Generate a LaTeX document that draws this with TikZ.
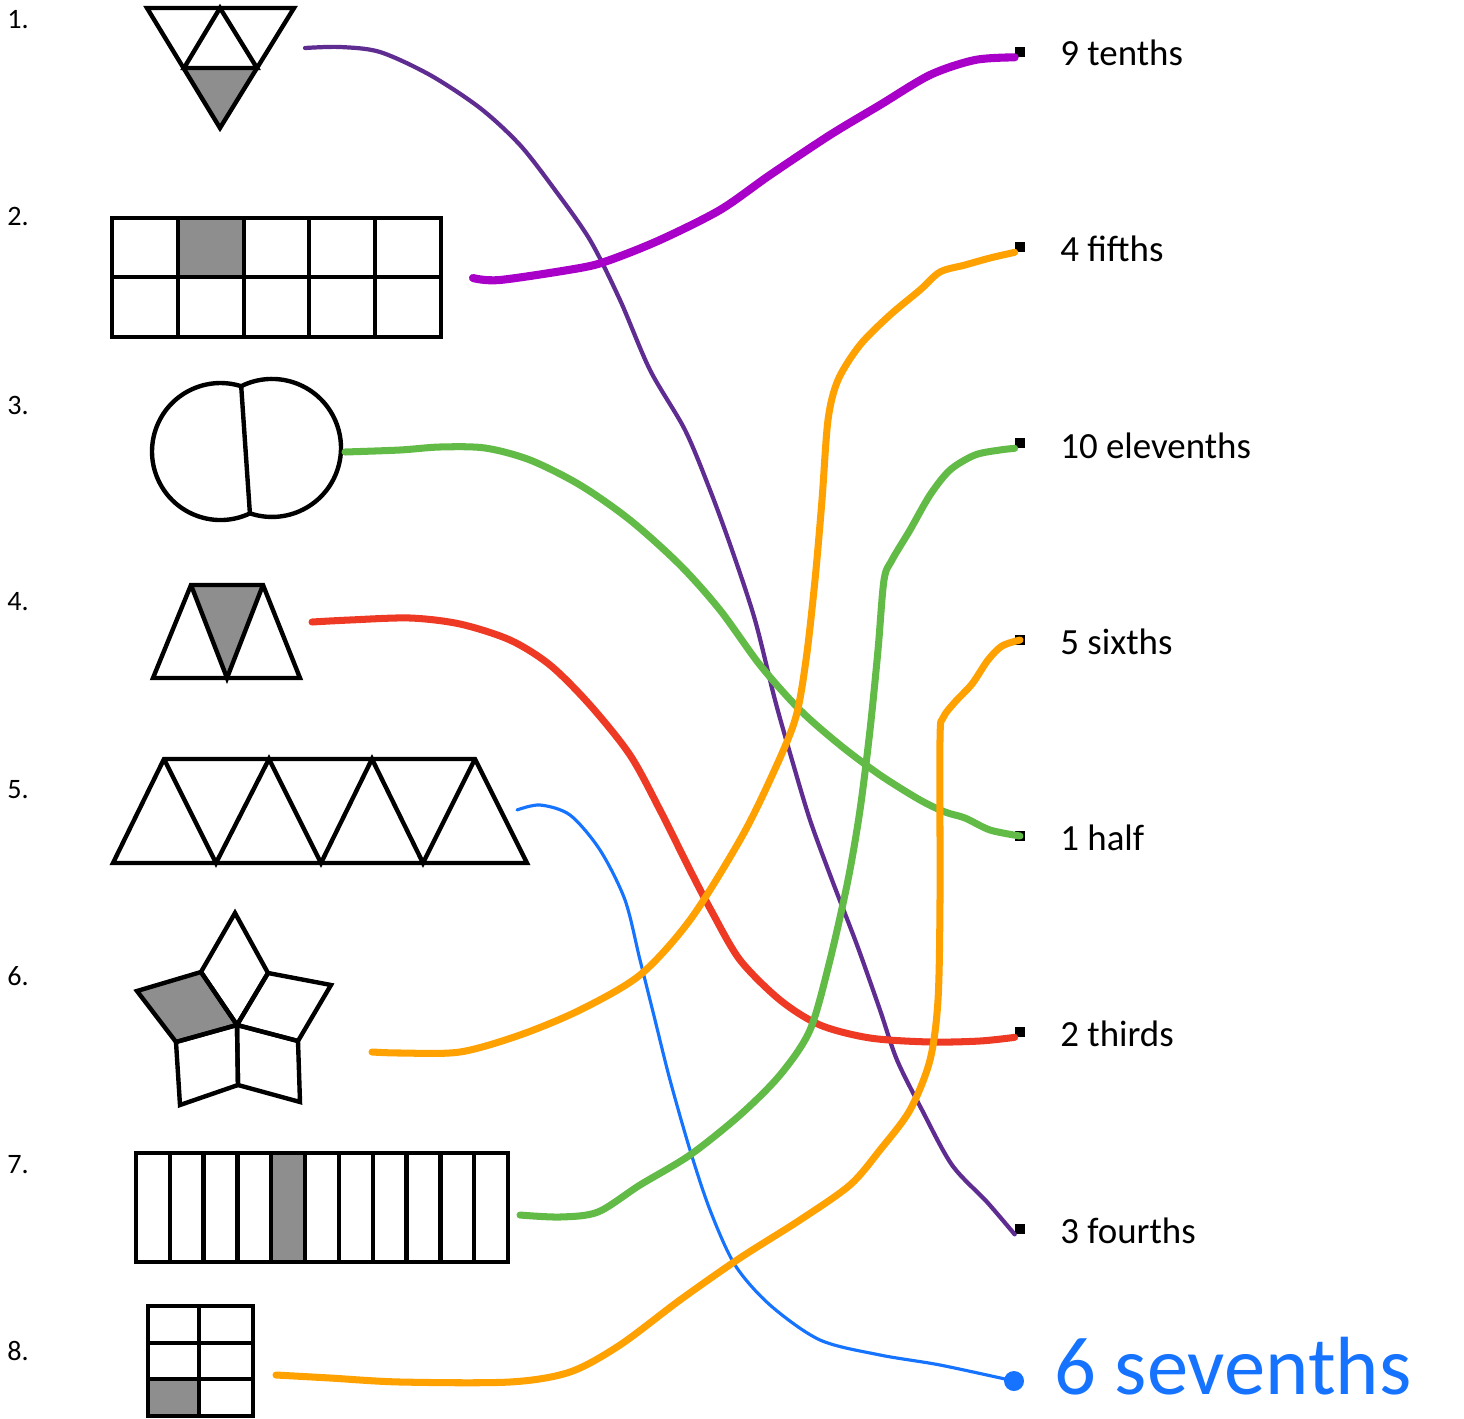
\documentclass[tikz,border=0pt]{standalone}
\usepackage{fontspec}
\setmainfont{Carlito}
\usepackage{xcolor}
\usetikzlibrary{positioning}

\definecolor{plumink}{HTML}{5F2D91}
\definecolor{magentaink}{HTML}{A800C8}
\definecolor{orangeink}{HTML}{FFA100}
\definecolor{greenink}{HTML}{62BB46}
\definecolor{redink}{HTML}{EE3A24}
\definecolor{blueink}{HTML}{1573FF}
\definecolor{dotgray}{HTML}{8E8E8E}

\begin{document}
\begin{tikzpicture}[x=0.02cm, y=-0.02cm,
  outline/.style={line width=2.5pt, line join=miter},
  shaded/.style={fill=dotgray},
  ink/.style={line cap=round, line join=round},
  thinink/.style={ink, line width=1.8pt},
  thickink/.style={ink, line width=4pt},
  endsq/.style={fill=black, minimum size=0.2cm, inner sep=0pt},
  fraclab/.style={anchor=base west, inner sep=0pt,
                  font=\fontsize{21}{25}\selectfont},
  numlab/.style={anchor=base west, inner sep=0pt,
                 font=\fontsize{16}{19}\selectfont},
]
\useasboundingbox (0,0) rectangle (1464,1419);

% --- Numbers ---
\node[numlab] (n1) at (7,29)   {1.};
\node[numlab] (n2) at (7,226)  {2.};
\node[numlab] (n3) at (7,414)  {3.};
\node[numlab] (n4) at (7,610)  {4.};
\node[numlab] (n5) at (7,798)  {5.};
\node[numlab] (n6) at (7,985)  {6.};
\node[numlab] (n7) at (7,1173) {7.};
\node[numlab] (n8) at (7,1360) {8.};

% --- 1. triangle in fourths ---
\fill[shaded] (184,68) -- (257,68) -- (220,128) -- cycle;
\draw[outline] (147,8) -- (294,8) -- (220,128) -- cycle;
\draw[outline] (184,68) -- (220,8) -- (257,68) -- cycle;

% --- 2. grid of tenths ---
\fill[shaded] (178,218) rectangle (244,277);
\draw[outline] (112,218) rectangle (441,337);
\draw[outline] (112,277) -- (441,277);
\foreach \x in {178,244,309,375}
  \draw[outline] (\x,218) -- (\x,337);

% --- 3. two circles ---
\draw[outline] (249.9,513.4) arc[start angle=64.6, end angle=287.6, radius=68.5];
\draw[outline] (241.2,386.2) arc[start angle=-116.5, end angle=108.7, radius=69];
\draw[outline] (241.2,386.2) -- (249.9,513.4);

% --- 4. three triangles ---
\fill[shaded] (191,585) -- (263,585) -- (227,678) -- cycle;
\draw[outline] (153,678) -- (191,585) -- (263,585) -- (300,678) -- cycle;
\draw[outline] (191,585) -- (227,678) -- (263,585);

% --- 5. row of triangles ---
\draw[outline] (113,863) -- (527,863) -- (475,759) -- (164,759) -- cycle;
\draw[outline] (164,759) -- (216,863) -- (269,759) -- (321,863)
  -- (372,759) -- (423,863) -- (475,759);

% --- 6. star of rhombi ---
\coordinate (ctr) at (237,1025);
\fill[shaded] (ctr) -- (201,972) -- (137,991) -- (176,1042) -- cycle;
\draw[outline] (ctr) -- (201,972) -- (137,991) -- (176,1042) -- cycle;
\draw[outline] (ctr) -- (201,972) -- (235,913) -- (268,973) -- cycle;
\draw[outline] (ctr) -- (268,973) -- (331,985) -- (298,1041) -- cycle;
\draw[outline] (ctr) -- (298,1041) -- (300,1102) -- (238,1085) -- cycle;
\draw[outline] (ctr) -- (238,1085) -- (180,1105) -- (176,1042) -- cycle;

% --- 7. strip of elevenths ---
\fill[shaded] (271.3,1153) rectangle (305.1,1262);
\draw[outline] (136,1153) rectangle (508,1262);
\foreach \i in {1,...,10}
  \draw[outline] ({136+\i*33.82},1153) -- ++(0,109);

% --- 8. grid of sixths ---
\fill[shaded] (148,1379) rectangle (199,1416);
\draw[outline] (148,1306) rectangle (253,1416);
\draw[outline] (199,1306) -- (199,1416);
\draw[outline] (148,1343) -- (253,1343);
\draw[outline] (148,1379) -- (253,1379);

% --- Answer column ---
\node[endsq] (e1) at (1020,52)   {};
\node[endsq] (e2) at (1020,247)  {};
\node[endsq] (e3) at (1020,443)  {};
\node[endsq] (e4) at (1020,640)  {};
\node[endsq] (e5) at (1020,836)  {};
\node[endsq] (e6) at (1020,1032) {};
\node[endsq] (e7) at (1020,1229) {};

\node[fraclab] (f1) at (1060,66)   {9 tenths};
\node[fraclab] (f2) at (1060,262)  {4 fifths};
\node[fraclab] (f3) at (1060,458)  {10 elevenths};
\node[fraclab] (f4) at (1060,654)  {5 sixths};
\node[fraclab] (f5) at (1060,850)  {1 half};
\node[fraclab] (f6) at (1060,1046) {2 thirds};
\node[fraclab] (f7) at (1060,1243) {3 fourths};

% handwritten extra answer
\fill[blueink] (1014,1381) circle[radius=10] coordinate (e8);
\node[anchor=base west, inner sep=0pt, blueink,
      font=\fontsize{47}{56}\selectfont] (f8) at (1054,1394) {6 sevenths};

% --- Matching strokes ---
\coordinate (s1) at (305,48);
\coordinate (s2) at (473,278);
\coordinate (s3) at (345,452);
\coordinate (s4) at (312,622);
\coordinate (s5) at (517,810);
\coordinate (s6) at (372,1052);
\coordinate (s7) at (520,1215);
\coordinate (s8) at (276,1375);

\draw[thinink, plumink, line width=2.4pt] plot[smooth] coordinates {(s1) (340,47)
  (380,52) (430,75) (480,108) (520,145) (555,190) (590,240) (620,300)
  (650,370) (685,430) (710,490) (732,550) (755,620) (775,700) (792,760)
  (810,820) (832,880) (857,945) (880,1010) (897,1060) (922,1110)
  (952,1165) (987,1202) (e7.south west)};
\draw[thickink, magentaink, line width=4.6pt] plot[smooth] coordinates {(s2) (500,280)
  (580,268) (610,260) (660,240) (720,210) (770,175) (830,135) (880,105)
  (930,75) (975,60) (e1.south west)};
\draw[thickink, greenink] plot[smooth] coordinates {(s3) (400,450) (440,447)
  (485,448) (530,460) (580,485) (630,520) (680,565) (720,610) (760,665)
  (800,710) (840,745) (880,775) (920,800) (945,812) (965,818) (990,830)
  (e5.center)};
\draw[thickink, redink] plot[smooth] coordinates {(s4) (350,620) (410,618)
  (460,624) (510,640) (550,665) (590,705) (630,755) (660,810) (690,870)
  (712,912) (740,960) (780,1000) (820,1025) (870,1038) (930,1042)
  (980,1041) (e6.south west)};
\draw[thinink, blueink] plot[smooth] coordinates {(s5) (540,805) (570,815)
  (600,850) (625,900) (640,960) (655,1020) (670,1080) (690,1150)
  (710,1210) (735,1265) (770,1305) (820,1340) (880,1355) (940,1365)
  (e8)};
\draw[thickink, orangeink] plot[smooth] coordinates {(s6) (400,1053) (460,1052)
  (520,1035) (580,1010) (640,975) (690,920) (740,840) (770,780)
  (795,720) (806,660) (815,580) (822,500) (828,420) (838,380) (860,345)
  (890,315) (920,290) (940,272) (965,265) (990,258) (e2.south west)};
\draw[thickink, greenink] plot[smooth] coordinates {(s7) (560,1217) (598,1212)
  (640,1185) (690,1155) (740,1115) (780,1075) (810,1030) (830,960)
  (848,880) (860,810) (870,730) (878,650) (884,580) (892,560) (910,530)
  (930,495) (950,470) (975,455) (1000,450) (e3.south west)};
\draw[thickink, orangeink] plot[smooth] coordinates {(s8) (330,1378) (400,1382)
  (510,1382) (570,1372) (620,1345) (680,1300) (740,1258) (800,1220)
  (850,1185) (880,1150) (910,1110) (930,1060) (938,1000) (940,900)
  (940,740) (943,718) (955,702) (972,684) (988,660) (1002,646)
  (e4.center)};

\end{tikzpicture}
\end{document}
